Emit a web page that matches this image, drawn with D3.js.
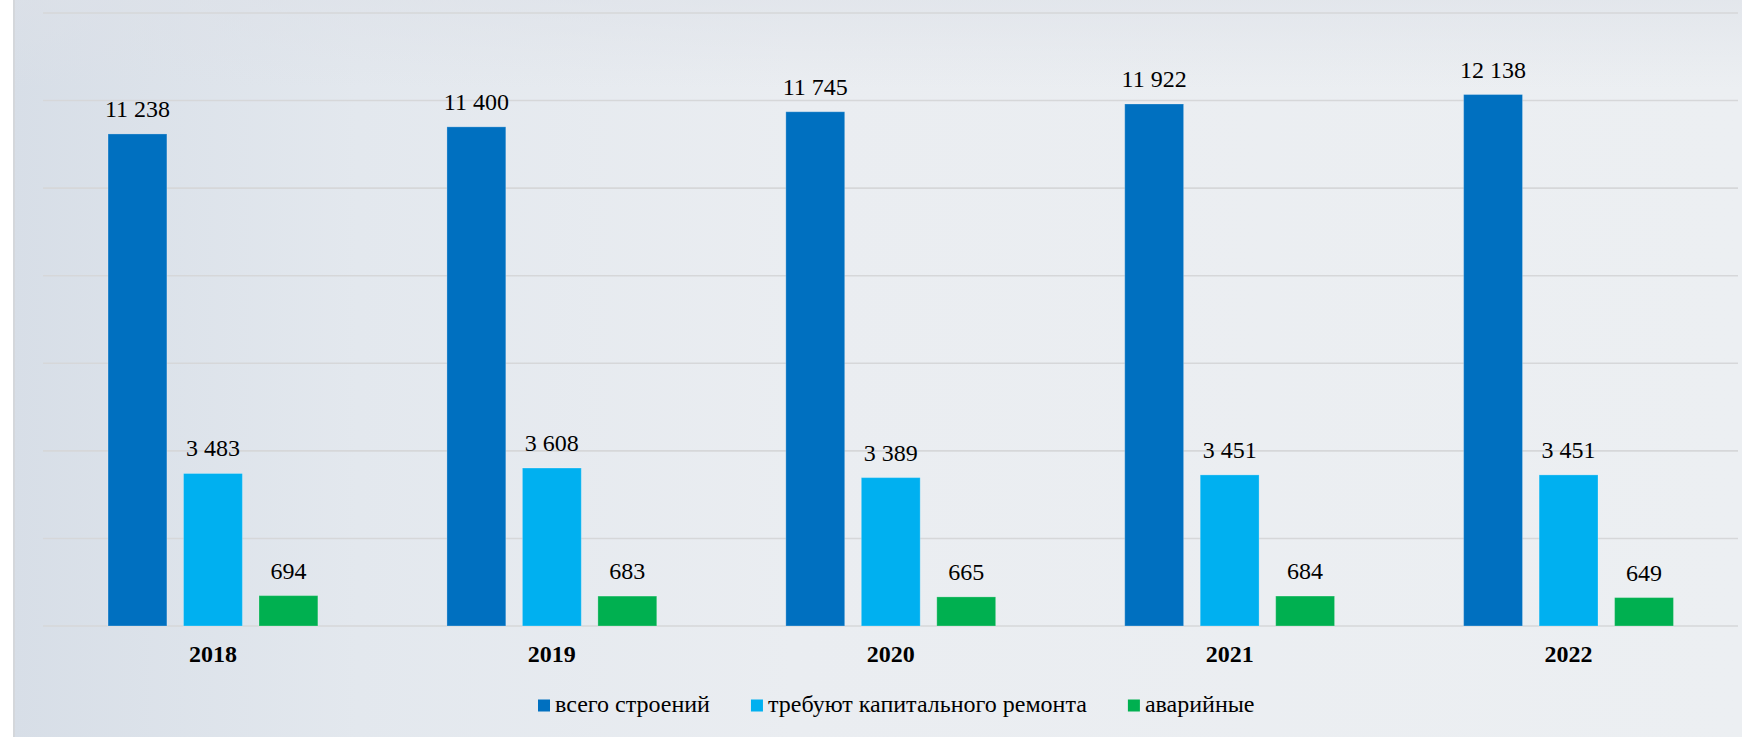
<!DOCTYPE html>
<html>
<head>
<meta charset="utf-8">
<script src="https://cdn.jsdelivr.net/npm/d3@7"></script>
<style>
  html, body { margin: 0; padding: 0; background: #ffffff; }
  svg { display: block; }
  text { font-family: "Liberation Serif", "Times New Roman", serif; fill: #000; }
</style>
</head>
<body>
<svg id="chart" width="1742" height="737"></svg>
<script>
const years = ["2018", "2019", "2020", "2021", "2022"];
const seriesNames = ["всего строений", "требуют капитального ремонта", "аварийные"];
const seriesColors = ["#0070c0", "#00b0f0", "#00b050"];
const totalBuildings = [11238, 11400, 11745, 11922, 12138];
const needRepair = [3483, 3608, 3389, 3451, 3451];
const emergency = [694, 683, 665, 684, 649];
const gridTicks = [0, 2000, 4000, 6000, 8000, 10000, 12000, 14000];

const seriesValues = [totalBuildings, needRepair, emergency];

const W = 1742, H = 737;
const svg = d3.select("#chart");

// background
const defs = svg.append("defs");
const grad = defs.append("linearGradient").attr("id", "bg").attr("x1", "0").attr("x2", "1").attr("y1", "0").attr("y2", "0");
grad.append("stop").attr("offset", "0%").attr("stop-color", "#d7dee7");
grad.append("stop").attr("offset", "20%").attr("stop-color", "#e3e8ee");
grad.append("stop").attr("offset", "45%").attr("stop-color", "#eaedf1");
grad.append("stop").attr("offset", "100%").attr("stop-color", "#eceff2");
const gradV = defs.append("linearGradient").attr("id", "bgv").attr("x1", "0").attr("x2", "0").attr("y1", "0").attr("y2", "1");
gradV.append("stop").attr("offset", "0%").attr("stop-color", "#dde1e8").attr("stop-opacity", 0.6);
gradV.append("stop").attr("offset", "12%").attr("stop-color", "#dde1e8").attr("stop-opacity", 0);

svg.append("rect").attr("x", 13).attr("y", 0).attr("width", W - 13).attr("height", H).attr("fill", "url(#bg)");
svg.append("rect").attr("x", 13).attr("y", 0).attr("width", W - 13).attr("height", H).attr("fill", "url(#bgv)");
svg.append("line").attr("x1", 14).attr("x2", 14).attr("y1", 0).attr("y2", H)
  .attr("stroke", "#d4d7db").attr("stroke-width", 2);

// scales
const x0 = d3.scaleBand().domain(years).range([43.5, 1738]).paddingInner(0).paddingOuter(0);
const x1 = d3.scaleBand().domain(d3.range(seriesNames.length)).range([0, x0.bandwidth()])
  .paddingInner(0.22).paddingOuter(0.855);
const y = d3.scaleLinear().domain([0, 14000]).range([626, 13]);

// gridlines
svg.append("g").selectAll("line").data(gridTicks).join("line")
  .attr("x1", 43).attr("x2", 1738)
  .attr("y1", d => y(d)).attr("y2", d => y(d))
  .attr("stroke", "#d6d7d9").attr("stroke-width", 1.6);

// bars
const groups = svg.append("g").selectAll("g").data(years).join("g")
  .attr("transform", d => `translate(${x0(d)},0)`);

groups.each(function(yr, i) {
  const g = d3.select(this);
  const data = seriesValues.map((vals, s) => ({ s, v: vals[i] }));
  g.selectAll("rect").data(data).join("rect")
    .attr("x", d => x1(d.s))
    .attr("y", d => y(d.v))
    .attr("width", x1.bandwidth())
    .attr("height", d => y(0) - y(d.v))
    .attr("fill", d => seriesColors[d.s])
    .attr("stroke", "rgba(255,255,255,0.25)")
    .attr("stroke-width", 1);
  g.selectAll("text.val").data(data).join("text")
    .attr("class", "val")
    .attr("x", d => x1(d.s) + x1.bandwidth() / 2)
    .attr("y", d => y(d.v) - 17)
    .attr("text-anchor", "middle")
    .attr("font-size", 24)
    .text(d => d3.format(",")(d.v).replace(/,/g, " "));
});

// x axis labels
svg.append("g").selectAll("text").data(years).join("text")
  .attr("x", d => x0(d) + x0.bandwidth() / 2)
  .attr("y", 662)
  .attr("text-anchor", "middle")
  .attr("font-size", 24)
  .attr("font-weight", "bold")
  .text(d => d);

// legend
const legend = svg.append("g");
let lx = 538;
seriesNames.forEach((name, i) => {
  legend.append("rect").attr("x", lx).attr("y", 699.5).attr("width", 12).attr("height", 12)
    .attr("fill", seriesColors[i]);
  const t = legend.append("text").attr("x", lx + 17).attr("y", 712).attr("font-size", 24).text(name);
  const w = t.node().getComputedTextLength();
  lx = lx + 17 + w + 41;
});
</script>
</body>
</html>
